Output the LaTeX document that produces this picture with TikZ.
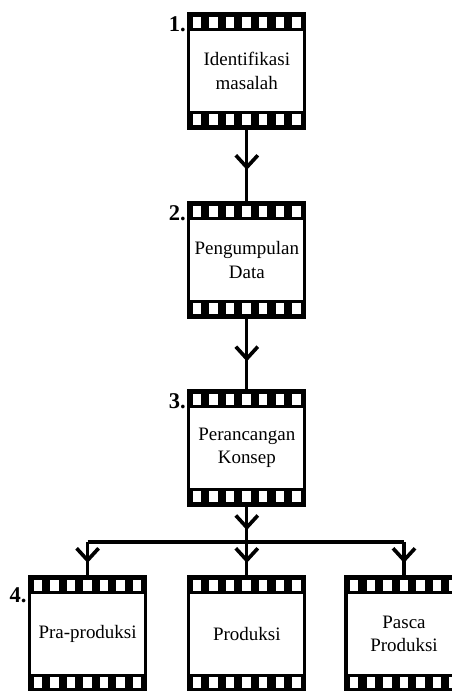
\documentclass[tikz,border=0pt]{standalone}
\usepackage{fontspec}
\setmainfont{Liberation Serif}
\usetikzlibrary{arrows.meta,decorations.markings}
\tikzstyle{film} = [draw,line width=2.2pt,minimum width=2.9cm,minimum height=2.85cm,
  inner sep=2pt,outer sep=0pt,align=center,font=\fontsize{13.5}{16.5}\selectfont,
  path picture={
    \fill[black] (path picture bounding box.north west) rectangle ([yshift=-0.42cm]path picture bounding box.north east);
    \fill[black] (path picture bounding box.south west) rectangle ([yshift=0.42cm]path picture bounding box.south east);
    \foreach \k in {0,...,6}{
      \fill[white] ([shift={(\k*0.414+0.1,-0.07)}]path picture bounding box.north west) rectangle +(0.21,-0.28);
      \fill[white] ([shift={(\k*0.414+0.1,0.07)}]path picture bounding box.south west) rectangle +(0.21,0.28);
    }
  }]
\tikzstyle{num} = [anchor=north east,inner sep=2pt,font=\fontsize{16}{16}\selectfont\bfseries]
\tikzstyle{link} = [draw,line width=2.2pt]

\begin{document}
\begin{tikzpicture}[midtip/.style={postaction={decorate},decoration={markings,
    mark=at position #1 with {\arrow{Straight Barb[length=3mm,width=5.5mm,line width=2.6pt]}}}}]
    \useasboundingbox (0,0) rectangle (11.3,17.275);

    % steps 1 - 3
    \node[film] (ident) at (6.17,15.5) {Identifikasi\\masalah};
    \node[film] (data) at (6.17,10.775) {Pengumpulan\\Data};
    \node[film] (konsep) at (6.17,6.075) {Perancangan\\Konsep};

    % step 4
    \node[film] (pra) at (2.19,1.425) {Pra-produksi};
    \node[film] (prod) at (6.17,1.425) {Produksi};
    \node[film] (pasca) at (10.1,1.425) {Pasca\\Produksi};

    \node[num] (n1) at (ident.north west) {1.};
    \node[num] (n2) at (data.north west) {2.};
    \node[num] (n3) at (konsep.north west) {3.};
    \node[num,yshift=-0.2cm] (n4) at (pra.north west) {4.};

    \coordinate (hub) at (6.17,3.725);

    \draw[link,midtip=0.56] (ident) -- (data);
    \draw[link,midtip=0.6] (data) -- (konsep);
    \draw[link,midtip=0.68] (konsep) -- (hub);
    \draw[link] (pra |- hub) -- (pasca |- hub);
    \draw[link,midtip=0.6] (pra |- hub) -- (pra);
    \draw[link,midtip=0.6] (hub) -- (prod);
    \draw[link,midtip=0.6] (pasca |- hub) -- (pasca);

\end{tikzpicture}
\end{document}
